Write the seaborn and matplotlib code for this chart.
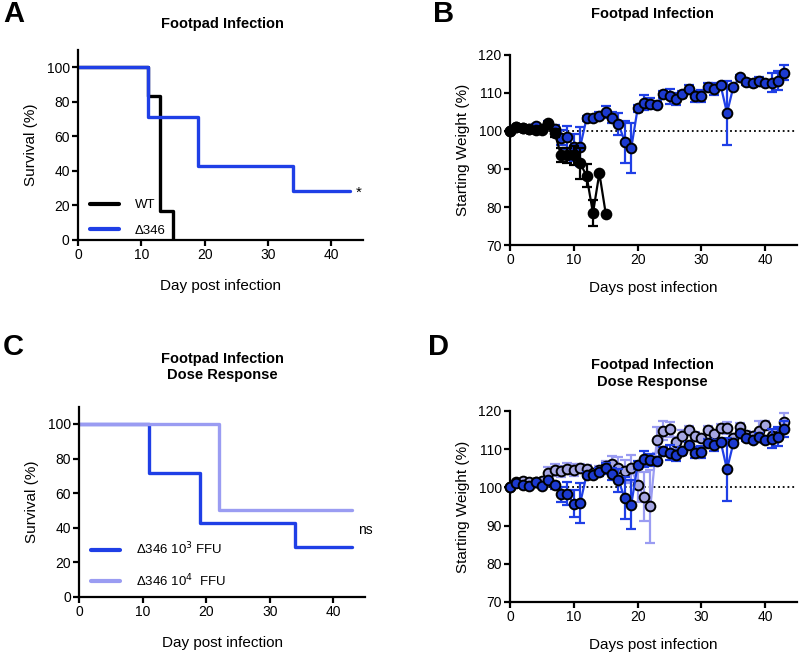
import numpy as np
import pandas as pd
import matplotlib
matplotlib.use("Agg")
import matplotlib.pyplot as plt
import seaborn as sns

sns.set_theme(style="ticks")
plt.rcParams["font.family"] = ["Liberation Sans", "DejaVu Sans"]
plt.rcParams["text.color"] = "black"
plt.rcParams["axes.labelcolor"] = "black"

# ── Colours ──────────────────────────────────────────────────────────────────
BLACK = "#000000"
BLUE = "#1f3fe6"
BLUE_FILL = "#1c3ad0"
LIGHT = "#9a9cf2"
LIGHT_FILL = "#a6a7e3"

# ── Survival data (Kaplan-Meier steps) ───────────────────────────────────────
surv_wt_day = [0, 11, 13, 15]
surv_wt = [100, 83.3, 16.7, 0]
surv_d346_day = [0, 11, 19, 34, 43]
surv_d346 = [100, 71.4, 42.9, 28.6, 28.6]
surv_1e4_day = [0, 22, 43]
surv_1e4 = [100, 50, 50]

# ── Weight data (% starting weight, mean and SEM) ────────────────────────────
wt_day = list(range(0, 16))
wt_weight = [100, 101.0, 100.8, 100.5, 100.3, 100.2, 101.8, 99.5,
             93.6, 93.6, 93.6, 91.5, 88.2, 78.4, 88.9, 78.3]
wt_sem = [0, 0.3, 0.3, 0.3, 0.4, 0.4, 0.5, 1.0,
          1.8, 2.0, 2.5, 4.0, 3.0, 3.5, 0, 0]

d346_day = list(range(0, 44))
d346_weight = [100, 101.1, 100.7, 100.4, 101.3, 100.4, 102.0, 100.5,
               98.2, 98.3, 95.7, 95.9, 103.3, 103.3, 104.0, 105.0,
               103.5, 101.8, 97.1, 95.5, 105.9, 107.4, 107.2, 106.9,
               109.6, 109.1, 108.4, 109.6, 111.0, 109.1, 109.2, 111.6,
               111.0, 112.0, 104.7, 111.6, 114.2, 112.9, 112.5, 113.2,
               112.5, 112.7, 113.2, 115.3]
d346_sem = [0, 0.3, 0.3, 0.3, 0.4, 0.4, 0.5, 1.0,
            2.0, 3.0, 3.5, 5.2, 0.6, 0.8, 1.0, 1.5,
            1.5, 3.0, 5.5, 6.5, 1.0, 2.0, 1.5, 1.0,
            1.0, 2.0, 1.5, 1.0, 1.0, 1.5, 1.5, 1.0,
            1.5, 0.5, 8.3, 0.5, 0.5, 0.8, 1.0, 1.0,
            0.8, 2.5, 2.5, 2.0]

hi_day = list(range(0, 44))
hi_weight = [100, 101.3, 101.7, 101.5, 101.3, 101.7, 103.8, 104.5,
             104.2, 104.9, 104.5, 105.2, 104.8, 103.8, 104.5, 105.5,
             106.2, 105.0, 104.2, 105.0, 100.6, 97.6, 95.0, 112.4,
             114.8, 115.2, 111.8, 113.5, 115.0, 113.5, 112.8, 115.0,
             114.0, 115.5, 115.5, 113.0, 115.8, 113.8, 113.5, 114.8,
             116.3, 113.5, 113.5, 117.0]
hi_sem = [0, 0.4, 0.4, 0.4, 0.4, 0.4, 1.5, 1.5,
          1.5, 1.5, 1.5, 1.0, 1.0, 1.0, 1.0, 1.5,
          2.0, 3.0, 3.0, 3.5, 4.5, 6.5, 9.5, 3.5,
          2.5, 2.0, 1.5, 1.5, 1.0, 1.0, 1.0, 1.0,
          1.0, 1.0, 1.5, 1.0, 1.0, 1.0, 1.0, 2.5,
          1.0, 1.5, 1.0, 2.5]

TICK_FS = 10
LABEL_FS = 11
TITLE_FS = 10.5


def style_axes(ax):
    sns.despine(ax=ax)
    for side in ["left", "bottom"]:
        ax.spines[side].set_linewidth(1.6)
        ax.spines[side].set_color("black")
    ax.tick_params(width=1.6, length=4, labelsize=TICK_FS, colors="black", pad=2)
    ax.grid(False)


def survival_panel(ax, series, legend_loc, spacing):
    for day, surv, color, label in series:
        sns.lineplot(x=day, y=surv, ax=ax, color=color, lw=2.4,
                     drawstyle="steps-post", label=label, estimator=None)
    ax.set_xlim(0, 45)
    ax.set_ylim(0, 110)
    ax.set_xticks([0, 10, 20, 30, 40])
    ax.set_yticks([0, 20, 40, 60, 80, 100])
    ax.set_xlabel("Day post infection", fontsize=LABEL_FS, labelpad=12)
    ax.set_ylabel("Survival (%)", fontsize=LABEL_FS, labelpad=6)
    style_axes(ax)
    leg = ax.legend(loc="lower left", bbox_to_anchor=legend_loc, frameon=False,
                    fontsize=9.5, handlelength=2.2, handletextpad=1.2,
                    labelspacing=spacing)
    for line in leg.get_lines():
        line.set_linewidth(3)


def weight_series(ax, day, weight, sem, line_color, fill_color, z):
    df = pd.DataFrame({"day": day, "weight": weight})
    ax.errorbar(day, weight, yerr=sem, fmt="none", ecolor=line_color,
                elinewidth=1.6, capsize=3.5, capthick=1.6, zorder=z)
    sns.lineplot(data=df, x="day", y="weight", ax=ax, color=line_color,
                 lw=1.6, marker="o", markersize=7, markerfacecolor=fill_color,
                 markeredgecolor="black", markeredgewidth=1.4,
                 estimator=None, zorder=z + 0.5, clip_on=False)


def weight_panel(ax):
    ax.axhline(100, ls=":", color="black", lw=1.3, zorder=1)
    ax.set_xlim(0, 45)
    ax.set_ylim(70, 120)
    ax.set_xticks([0, 10, 20, 30, 40])
    ax.set_yticks([70, 80, 90, 100, 110, 120])
    ax.set_xlabel("Days post infection", fontsize=LABEL_FS, labelpad=10)
    ax.set_ylabel("Starting Weight (%)", fontsize=LABEL_FS, labelpad=6)
    style_axes(ax)


fig = plt.figure(figsize=(8.0, 6.52), dpi=100)

# ── Panel A ──────────────────────────────────────────────────────────────────
axA = fig.add_axes([0.0975, 0.632, 0.356, 0.291])
survival_panel(axA, [(surv_wt_day, surv_wt, BLACK, "WT"),
                     (surv_d346_day, surv_d346, BLUE, "Δ346")],
               legend_loc=(0.0, -0.045), spacing=1.0)
axA.text(44.4, 27.5, "*", fontsize=11, ha="center", va="center")

# ── Panel B ──────────────────────────────────────────────────────────────────
axB = fig.add_axes([0.6375, 0.624, 0.359, 0.292])
weight_panel(axB)
weight_series(axB, d346_day, d346_weight, d346_sem, BLUE, BLUE_FILL, 3)
weight_series(axB, wt_day, wt_weight, wt_sem, BLACK, BLACK, 5)

# ── Panel C ──────────────────────────────────────────────────────────────────
axC = fig.add_axes([0.099, 0.0844, 0.3575, 0.292])
survival_panel(axC, [(surv_d346_day, surv_d346, BLUE, "Δ346 10$^{3}$ FFU"),
                     (surv_1e4_day, surv_1e4, LIGHT, "Δ346 10$^{4}$  FFU")],
               legend_loc=(0.0, -0.02), spacing=1.1)
axC.text(45.0, 38.5, "ns", fontsize=10, ha="center", va="center")

# ── Panel D ──────────────────────────────────────────────────────────────────
axD = fig.add_axes([0.6375, 0.0767, 0.359, 0.293])
weight_panel(axD)
weight_series(axD, hi_day, hi_weight, hi_sem, LIGHT, LIGHT_FILL, 3)
weight_series(axD, d346_day, d346_weight, d346_sem, BLUE, BLUE_FILL, 5)

# ── Titles and panel letters ─────────────────────────────────────────────────
fig.text(0.2775, 0.963, "Footpad Infection", ha="center", va="center",
         fontsize=TITLE_FS, fontweight="bold")
fig.text(0.816, 0.9785, "Footpad Infection", ha="center", va="center",
         fontsize=TITLE_FS, fontweight="bold")
fig.text(0.2775, 0.437, "Footpad Infection\nDose Response", ha="center",
         va="center", fontsize=TITLE_FS, fontweight="bold", linespacing=1.2)
fig.text(0.816, 0.427, "Footpad Infection\nDose Response", ha="center",
         va="center", fontsize=TITLE_FS, fontweight="bold", linespacing=1.2)

for x, y, letter in [(0.004, 0.979, "A"), (0.541, 0.979, "B"),
                     (0.004, 0.468, "C"), (0.535, 0.468, "D")]:
    fig.text(x, y, letter, ha="left", va="center", fontsize=21,
             fontweight="bold")

fig.savefig("out.png", dpi=100)
